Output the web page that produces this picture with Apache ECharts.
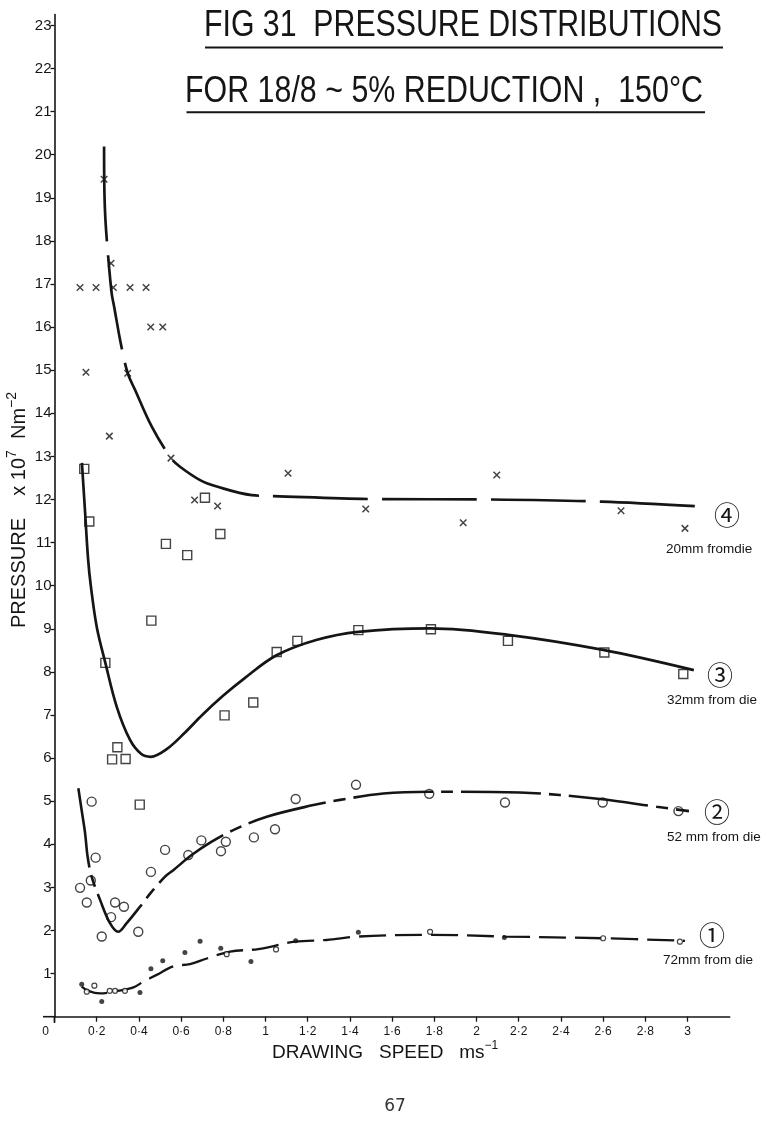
<!DOCTYPE html>
<html><head><meta charset="utf-8">
<script src="https://cdn.jsdelivr.net/npm/echarts@6/dist/echarts.min.js"></script>
<style>html,body{margin:0;padding:0;background:#fff}#c{width:773px;height:1124px}</style>
</head><body><div id="c"></div>
<script>
// ---- axis ticks / labels ----
const xTicks = [0,0.2,0.4,0.6,0.8,1,1.2,1.4,1.6,1.8,2,2.2,2.4,2.6,2.8,3];
const xTickLabels = ['0','0·2','0·4','0·6','0·8','1','1·2','1·4','1·6','1·8','2','2·2','2·4','2·6','2·8','3'];
const yTicks = [1,2,3,4,5,6,7,8,9,10,11,12,13,14,15,16,17,18,19,20,21,22,23];

// ---- measured points (x: drawing speed m/s, y: pressure x10^7 N/m^2) ----
const crosses20mm = [[0.121,16.92],[0.149,14.95],[0.197,16.92],[0.235,19.43],[0.26,13.47],[0.268,17.48],
  [0.279,16.92],[0.347,14.93],[0.358,16.92],[0.434,16.92],[0.456,16.0],[0.513,16.0],[0.552,12.96],
  [0.664,11.99],[0.773,11.85],[1.107,12.61],[1.475,11.78],[1.937,11.46],[2.096,12.57],[2.685,11.74],[2.988,11.33]];
const squares32mm = [[0.141,12.71],[0.165,11.49],[0.241,8.21],[0.273,5.97],[0.298,6.25],[0.337,5.98],[0.404,4.92],
  [0.459,9.19],[0.528,10.97],[0.629,10.71],[0.713,12.04],[0.786,11.2],[0.806,6.99],[0.942,7.29],[1.053,8.46],
  [1.151,8.72],[1.44,8.97],[1.784,8.99],[2.149,8.72],[2.606,8.45],[2.98,7.95]];
const circles52mm = [[0.121,2.99],[0.153,2.65],[0.172,3.16],[0.176,4.99],[0.195,3.69],[0.224,1.86],[0.268,2.31],
  [0.287,2.65],[0.329,2.55],[0.397,1.97],[0.457,3.36],[0.524,3.87],[0.634,3.75],[0.696,4.09],[0.789,3.84],
  [0.812,4.06],[0.945,4.16],[1.045,4.35],[1.143,5.05],[1.429,5.38],[1.776,5.17],[2.135,4.97],[2.598,4.97],[2.957,4.77]];
const dots72mm = [[0.129,0.75],[0.224,0.35],[0.405,0.56],[0.457,1.11],[0.513,1.3],[0.618,1.49],[0.69,1.75],
  [0.788,1.59],[0.931,1.28],[1.143,1.76],[1.44,1.96],[2.132,1.84]];
const rings72mm = [[0.153,0.58],[0.189,0.72],[0.262,0.6],[0.287,0.6],[0.334,0.6],[0.816,1.45],[1.05,1.56],
  [1.78,1.97],[2.6,1.82],[2.964,1.74]];

// ---- hand-drawn fitted curves ----
const curve20mm = [[0.235,20.19],[0.236,19.3],[0.241,18.52],[0.255,17.6],[0.271,16.78],[0.282,16.49],[0.315,15.6],
  [0.347,14.93],[0.382,14.54],[0.461,13.69],[0.552,12.96],[0.595,12.76],[0.69,12.45],[0.769,12.3],[0.935,12.1],
  [1.037,12.08],[1.511,12.01],[2.056,12.0],[2.593,11.95],[3.091,11.83]];
const curve32mm = [[0.13,12.85],[0.145,11.7],[0.159,10.63],[0.172,10.0],[0.2,9.05],[0.241,8.21],[0.295,7.19],
  [0.358,6.42],[0.41,6.1],[0.456,6.03],[0.53,6.2],[0.62,6.6],[0.7,7.0],[0.8,7.45],[0.9,7.85],[1.05,8.38],
  [1.24,8.74],[1.44,8.93],[1.78,9.01],[2.15,8.86],[2.6,8.51],[3.03,8.04]];
const curve52mm = [[0.113,5.3],[0.13,4.75],[0.145,4.26],[0.157,3.71],[0.176,3.25],[0.216,2.71],[0.263,2.17],
  [0.302,1.97],[0.342,2.17],[0.405,2.55],[0.457,2.88],[0.524,3.25],[0.563,3.4],[0.65,3.75],[0.745,4.06],
  [0.847,4.33],[1.006,4.64],[1.227,4.91],[1.353,5.03],[1.558,5.18],[1.78,5.22],[2.206,5.2],[2.585,5.05],
  [2.854,4.87],[3.007,4.77]];
const curve72mm = [[0.129,0.7],[0.16,0.6],[0.216,0.54],[0.3,0.6],[0.374,0.68],[0.42,0.81],[0.484,0.97],
  [0.563,1.17],[0.642,1.22],[0.721,1.35],[0.832,1.51],[0.966,1.57],[1.14,1.74],[1.29,1.78],[1.44,1.86],
  [1.78,1.9],[2.135,1.86],[2.6,1.82],[2.988,1.76]];

const curveNumbers = ['④','③','②','①'];
const curveLabels = ['20mm fromdie','32mm from die','52 mm from die','72mm from die'];
const titleLines = ['FIG 31  PRESSURE DISTRIBUTIONS','FOR 18/8 ~ 5% REDUCTION ,  150°C'];

const INK = '#151515';
const F = 'Liberation Sans';
const chart = echarts.init(document.getElementById('c'));

// horizontal squeeze so the lettering-style title fits its underline
const mctx = document.createElement('canvas').getContext('2d');
mctx.font = '36px "Liberation Sans"';
const t1Scale = 518 / mctx.measureText(titleLines[0]).width;
const t2Scale = 518 / mctx.measureText(titleLines[1]).width;

function lineSeries(data, width, dash) {
  return {type:'line', data:data, smooth:0.35, showSymbol:false, silent:true, z:2,
    lineStyle:{color:INK, width:width, type:dash, cap:'butt'}};
}
const crossPath = 'path://M0,0L10,10M10,0L0,10';

const option = {
  animation:false,
  backgroundColor:'#fff',
  grid:{left:54.5, right:43.3, top:14.6, bottom:107.3},
  xAxis:{type:'value', min:0, max:3.2, interval:0.2,
    axisLine:{onZero:false, lineStyle:{color:INK, width:1.6}},
    axisTick:{length:5, customValues:xTicks, lineStyle:{color:INK, width:1.3}},
    axisLabel:{customValues:xTicks, margin:9, fontFamily:F, fontSize:12, color:INK,
      formatter:function(v){var i=Math.round(v*5); return i===0 ? '{z|'+xTickLabels[0]+'}' : xTickLabels[i];},
      rich:{z:{fontFamily:F, fontSize:12, color:INK, padding:[0,18,0,0]}}},
    splitLine:{show:false}},
  yAxis:{type:'value', min:0, max:23.25, interval:1,
    axisLine:{onZero:false, lineStyle:{color:INK, width:1.6}},
    axisTick:{length:4, customValues:yTicks, lineStyle:{color:INK, width:1.3}},
    axisLabel:{customValues:yTicks, margin:3, fontFamily:F, fontSize:15, color:INK},
    splitLine:{show:false}},
  series:[
    lineSeries(curve20mm, 2.7, [95,14]),
    lineSeries(curve32mm, 2.7, 'solid'),
    lineSeries(curve52mm, 2.6, [80,8,12,8]),
    lineSeries(curve72mm, 2.3, [27,9]),
    {type:'scatter', data:crosses20mm, symbol:crossPath, symbolSize:6.5, silent:true, z:3,
      itemStyle:{color:'rgba(0,0,0,0)', borderColor:INK, borderWidth:1.5}},
    {type:'scatter', data:squares32mm, symbol:'rect', symbolSize:9, silent:true, z:3,
      itemStyle:{color:'rgba(0,0,0,0)', borderColor:INK, borderWidth:1.4}},
    {type:'scatter', data:circles52mm, symbol:'circle', symbolSize:9, silent:true, z:3,
      itemStyle:{color:'rgba(0,0,0,0)', borderColor:INK, borderWidth:1.4}},
    {type:'scatter', data:dots72mm, symbol:'circle', symbolSize:5, silent:true, z:3,
      itemStyle:{color:INK}},
    {type:'scatter', data:rings72mm, symbol:'circle', symbolSize:5, silent:true, z:3,
      itemStyle:{color:'#fff', borderColor:INK, borderWidth:1.2}}
  ],
  graphic:[
    {type:'text', x:204, y:26.5, scaleX:t1Scale,
      style:{text:titleLines[0], font:'36px "Liberation Sans"', fill:INK, align:'left', verticalAlign:'middle'}},
    {type:'line', shape:{x1:205,y1:47.5,x2:723,y2:47.5}, style:{stroke:INK, lineWidth:2}},
    {type:'text', x:185, y:92.5, scaleX:t2Scale,
      style:{text:titleLines[1], font:'36px "Liberation Sans"', fill:INK, align:'left', verticalAlign:'middle'}},
    {type:'line', shape:{x1:186.5,y1:112.3,x2:705,y2:112.3}, style:{stroke:INK, lineWidth:2}},
    // small axis overhangs as drawn on the original
    {type:'line', shape:{x1:43,y1:1016.7,x2:55,y2:1016.7}, style:{stroke:INK, lineWidth:1.6}},
    {type:'line', shape:{x1:54.5,y1:1016,x2:54.5,y2:1023}, style:{stroke:INK, lineWidth:1.6}},
    // axis titles
    {type:'text', x:5, y:628, rotation:Math.PI/2,
      style:{text:'{n|PRESSURE    x 10}{s|7}{n|  Nm}{s|−2}', fill:INK, align:'left', verticalAlign:'top',
        rich:{n:{fontFamily:F, fontSize:20, lineHeight:28, fill:INK},
              s:{fontFamily:F, fontSize:14, lineHeight:14, fill:INK, verticalAlign:'top'}}}},
    {type:'text', x:272, y:1040,
      style:{text:'{n|DRAWING   SPEED   ms}{s|−1}', fill:INK, align:'left', verticalAlign:'top',
        rich:{n:{fontFamily:F, fontSize:19, lineHeight:26, fill:INK},
              s:{fontFamily:F, fontSize:12, lineHeight:12, fill:INK, verticalAlign:'top'}}}},
    // curve annotations
    {type:'text', x:727, y:515, style:{text:curveNumbers[0], font:'26px "Noto Sans CJK SC"', fill:INK, align:'center', verticalAlign:'middle'}},
    {type:'text', x:666, y:549, style:{text:curveLabels[0], font:'13.5px "Liberation Sans"', fill:INK, align:'left', verticalAlign:'middle'}},
    {type:'text', x:720, y:675, style:{text:curveNumbers[1], font:'26px "Noto Sans CJK SC"', fill:INK, align:'center', verticalAlign:'middle'}},
    {type:'text', x:667, y:700, style:{text:curveLabels[1], font:'13.5px "Liberation Sans"', fill:INK, align:'left', verticalAlign:'middle'}},
    {type:'text', x:717, y:812, style:{text:curveNumbers[2], font:'26px "Noto Sans CJK SC"', fill:INK, align:'center', verticalAlign:'middle'}},
    {type:'text', x:667, y:837, style:{text:curveLabels[2], font:'13.5px "Liberation Sans"', fill:INK, align:'left', verticalAlign:'middle'}},
    {type:'text', x:712, y:935, style:{text:curveNumbers[3], font:'26px "Noto Sans CJK SC"', fill:INK, align:'center', verticalAlign:'middle'}},
    {type:'text', x:663, y:960, style:{text:curveLabels[3], font:'13.5px "Liberation Sans"', fill:INK, align:'left', verticalAlign:'middle'}},
    // page number
    {type:'text', x:395, y:1107, style:{text:'67', font:'17px "DejaVu Sans"', fill:'#333', align:'center', verticalAlign:'middle'}}
  ]
};
chart.setOption(option);
</script></body></html>
